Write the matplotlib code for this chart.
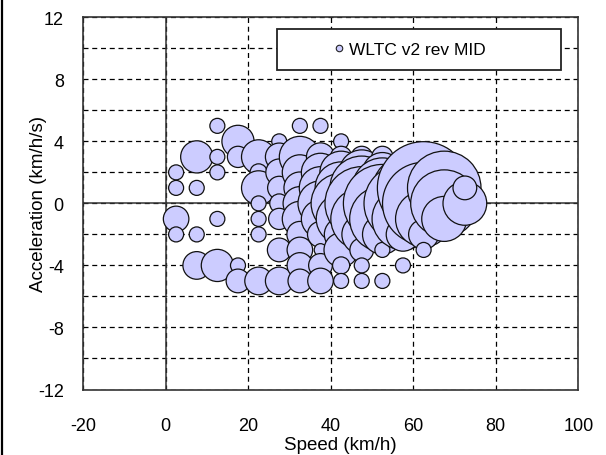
import numpy as np
import matplotlib
matplotlib.use("Agg")
import matplotlib.pyplot as plt
from matplotlib.lines import Line2D
from matplotlib.patches import Rectangle

plt.rcParams['font.family'] = ['Liberation Sans', 'DejaVu Sans']

# ---- data: speed bin centre (km/h), acceleration (km/h/s), relative time share ----
speed_2_5 = [(2, 1.0), (1, 1.0), (-1, 2.9), (-2, 1.0)]
speed_7_5 = [(3, 4.6), (1, 1.0), (-2, 1.0), (-4, 3.4)]
speed_12_5 = [(5, 1.0), (3, 1.0), (2, 1.0), (-1, 1.0), (-4, 4.6)]
speed_17_5 = [(4, 4.6), (3, 2.0), (-4, 1.0), (-5, 2.5)]
speed_22_5 = [(3, 5.2), (2, 1.3), (1, 5.2), (0, 1.0), (-1, 1.0), (-2, 1.0), (-5, 3.4)]
speed_27_5 = [(4, 1.0), (3, 3.4), (2, 3.2), (1, 2.4), (0, 1.6), (-1, 2.0), (-3, 2.5), (-5, 3.4)]
speed_32_5 = [(5, 1.0), (3, 7.5), (2, 5.5), (1, 4.5), (0, 5.0), (-1, 5.5), (-2, 3.0),
              (-3, 2.9), (-4, 2.9), (-5, 2.5)]
speed_37_5 = [(5, 1.0), (3, 3.5), (2, 6.5), (1, 8.0), (0, 9.0), (-1, 6.5), (-2, 3.0),
              (-3, 0.7), (-4, 2.5), (-5, 2.9)]
speed_42_5 = [(4, 1.0), (3, 2.0), (2, 8.0), (1, 12.0), (0, 16.0), (-1, 11.0), (-2, 5.0),
              (-3, 5.2), (-4, 1.3), (-5, 1.0)]
speed_47_5 = [(3, 2.0), (2, 9.0), (1, 18.0), (0, 24.0), (-1, 17.0), (-2, 7.0), (-3, 2.5),
              (-4, 1.0), (-5, 1.0)]
speed_52_5 = [(3, 2.0), (2, 7.0), (1, 16.0), (0, 27.0), (-1, 19.0), (-2, 7.0), (-3, 1.0),
              (-5, 1.0)]
speed_57_5 = [(2, 5.0), (1, 16.0), (0, 27.0), (-1, 17.0), (-2, 5.0), (-4, 1.0)]
speed_62_5 = [(1, 38.0), (0, 30.0), (-1, 14.0), (-2, 4.0), (-3, 1.0)]
speed_67_5 = [(1, 24.0), (0, 20.0), (-1, 9.0)]
speed_72_5 = [(0, 8.5), (1, 2.5)]

columns = [(2.5, speed_2_5), (7.5, speed_7_5), (12.5, speed_12_5), (17.5, speed_17_5),
           (22.5, speed_22_5), (27.5, speed_27_5), (32.5, speed_32_5), (37.5, speed_37_5),
           (42.5, speed_42_5), (47.5, speed_47_5), (52.5, speed_52_5), (57.5, speed_57_5),
           (62.5, speed_62_5), (67.5, speed_67_5), (72.5, speed_72_5)]

series_label = "WLTC v2 rev MID"
x_ticks = [-20, 0, 20, 40, 60, 80, 100]
y_ticks = [-12, -8, -4, 0, 4, 8, 12]

speeds, accels, shares = [], [], []
for v, pts in columns:
    for a, s in pts:
        speeds.append(v)
        accels.append(a)
        shares.append(s)
speeds = np.array(speeds)
accels = np.array(accels)
shares = np.array(shares)

# ---- figure ----
W, H, DPI = 606, 456, 100
fig = plt.figure(figsize=(W / DPI, H / DPI), dpi=DPI)
L, R, T, B = 83.3, 578.3, 18.3, 390.5
ax = fig.add_axes([L / W, 1 - B / H, (R - L) / W, (B - T) / H])

px = 72.0 / DPI
unit_r = 7.5  # px radius for share 1.0
sizes = (2 * unit_r * np.sqrt(shares) * px) ** 2

fill = '#ccccff'
ax.scatter(speeds, accels, s=sizes, facecolor=fill, edgecolor='#111111',
           linewidths=0.9, zorder=3)

ax.set_xlim(-20, 100)
ax.set_ylim(-12, 12)
ax.set_xticks(x_ticks)
ax.set_yticks(y_ticks)
ax.set_yticks(np.arange(-12, 13, 2), minor=True)
ax.set_xticklabels([str(t) for t in x_ticks])
ax.set_yticklabels([str(t) for t in y_ticks])

ax.set_axisbelow(True)
dash = (0, (4, 3))
ax.grid(True, which='major', axis='x', color='black', lw=0.9, linestyle=dash)
ax.grid(True, which='both', axis='y', color='black', lw=0.9, linestyle=dash)
ax.axhline(0, color='#333333', lw=1.1, zorder=1)
ax.axvline(0, color='#333333', lw=1.1, zorder=1)

ax.tick_params(axis='both', which='both', length=0, labelsize=13, colors='black')
ax.tick_params(axis='y', pad=14)
ax.tick_params(axis='x', pad=20)
for sp in ax.spines.values():
    sp.set_color('#333333')
    sp.set_linewidth(1.2)

ax.set_xlabel('Speed (km/h)', fontsize=13.5)
ax.set_ylabel('Acceleration (km/h/s)', fontsize=13.5)
ax.xaxis.set_label_coords((340 - L) / (R - L), -(437 - B) / (B - T))
ax.yaxis.set_label_coords((47 - L) / (R - L), 0.5)

# legend box
lx0, lx1, ly0, ly1 = 277.3, 561.3, 30.0, 70.7
box = Rectangle(((lx0 - L) / (R - L), 1 - (ly1 - T) / (B - T)),
                (lx1 - lx0) / (R - L), (ly1 - ly0) / (B - T),
                transform=ax.transAxes, facecolor='white', edgecolor='#222222',
                lw=1.3, zorder=4)
ax.add_patch(box)
handle = Line2D([], [], linestyle='none', marker='o', markersize=6.5 * px,
                markerfacecolor=fill, markeredgecolor='#222222', markeredgewidth=0.8)
leg = ax.legend([handle], [series_label], loc='center',
                bbox_to_anchor=((410 - L) / (R - L), 1 - (50 - T) / (B - T)),
                frameon=False, fontsize=12.5, handlelength=0.6, handletextpad=0.3,
                borderpad=0.1)
leg.set_zorder(5)

# left figure edge line
fig.add_artist(Line2D([2.5 / W, 2.5 / W], [0, 1], transform=fig.transFigure,
                      color='black', lw=1.6))

fig.savefig('out.png', dpi=DPI)
